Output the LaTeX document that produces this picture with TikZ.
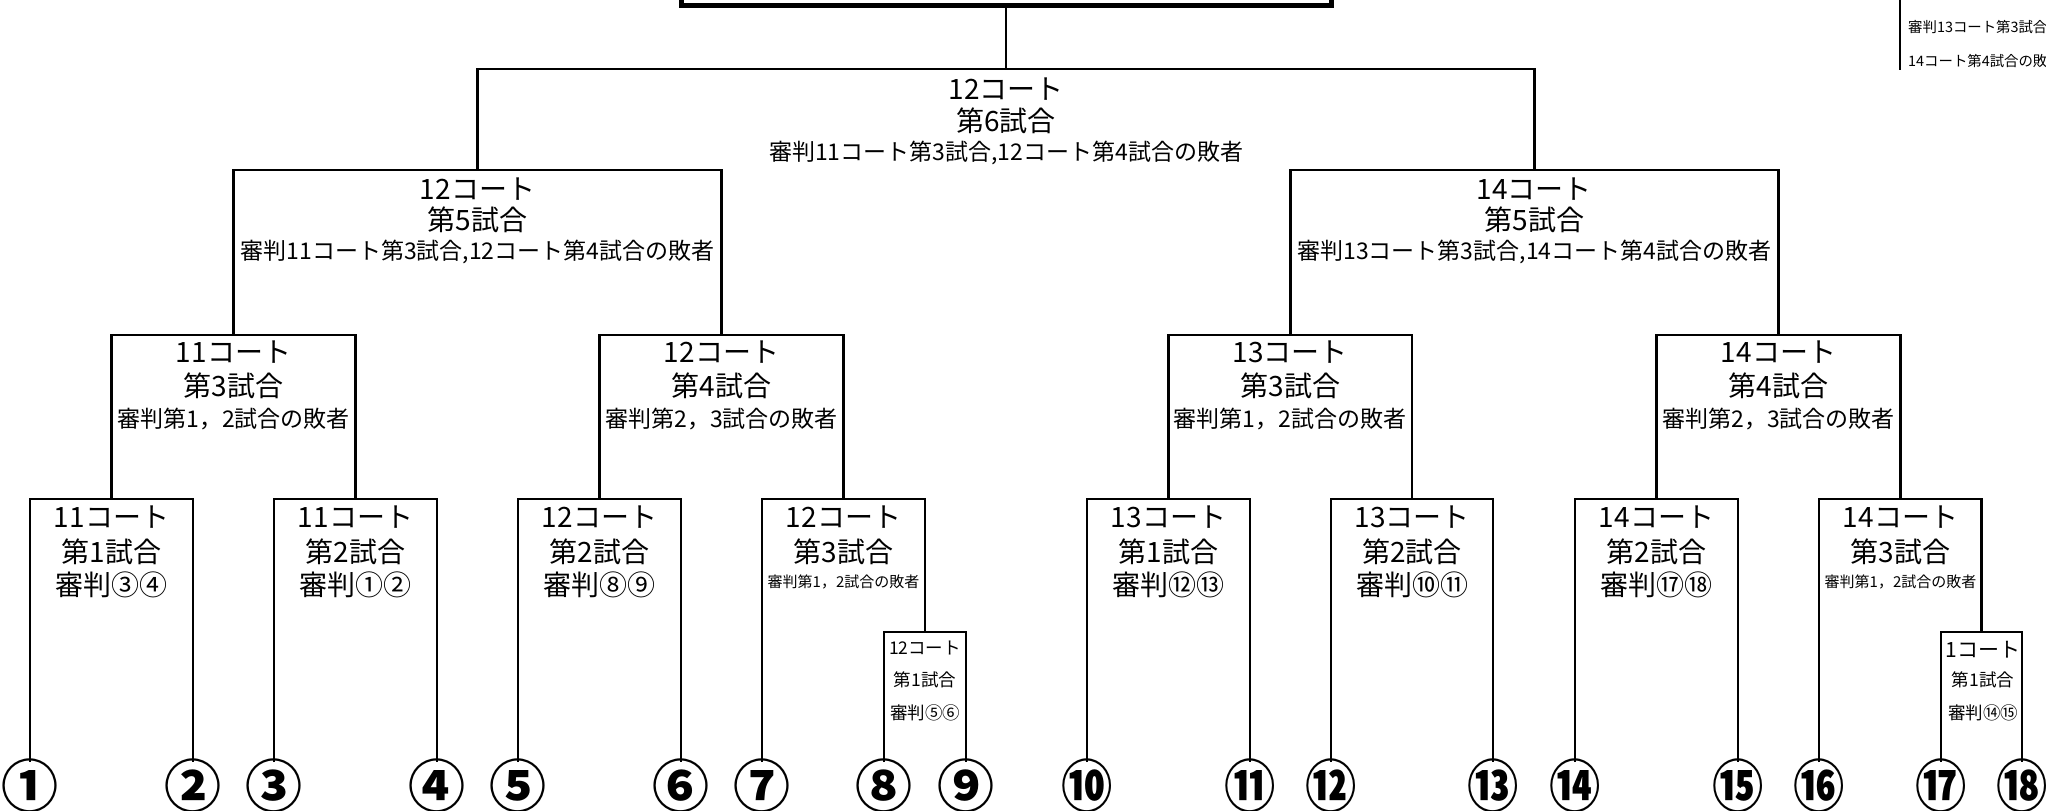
\documentclass[tikz,border=0pt]{standalone}
\usepackage{fontspec}
\setmainfont{Noto Sans CJK JP}
\begin{document}
\begin{tikzpicture}[x=1pt,y=-1pt,
  ln/.style={line width=2.6pt, line join=miter},
  tt/.style={inner sep=0pt, font=\fontsize{28}{28}\selectfont},
  rf/.style={inner sep=0pt, font=\fontsize{23}{23}\selectfont},
  sr/.style={inner sep=0pt, font=\fontsize{15}{15}\selectfont},
  tr/.style={inner sep=0pt, font=\fontsize{14.4}{14.4}\selectfont},
  st/.style={inner sep=0pt, font=\fontsize{17.5}{17.5}\selectfont},
  num/.style={inner sep=0pt, font=\fontsize{57}{57}\selectfont\bfseries},
  numn/.style={num, xscale=0.9}]
\useasboundingbox (0,0) rectangle (2046,811);
\clip (0,0) rectangle (2046,811);
% leg ends
\foreach \n/\x in {1/30,2/193,3/274,4/437,5/518,6/681,7/762,8/884,9/966,
  10/1087,11/1250,12/1331,13/1493,14/1575,15/1738,16/1819,17/1941,18/2022}
  \coordinate (p\n) at (\x,762);
% match tops
\coordinate (mA1) at (111.5,499);
\coordinate (mA2) at (355.5,499);
\coordinate (mB1) at (599.5,499);
\coordinate (mB2) at (843.5,499);
\coordinate (mB2s) at (925,632);
\coordinate (mC1) at (1168.5,499);
\coordinate (mC2) at (1412,499);
\coordinate (mD1) at (1656.5,499);
\coordinate (mD2) at (1900.5,499);
\coordinate (mD2s) at (1981.5,632);
\coordinate (mA) at (233.5,335);
\coordinate (mB) at (721.5,335);
\coordinate (mC) at (1290.25,335);
\coordinate (mD) at (1778.5,335);
\coordinate (mL) at (477.5,170);
\coordinate (mR) at (1534.4,170);
\coordinate (mF) at (1006,69);
\coordinate (tb) at (1006,5);
% brackets
\draw[ln] (p1) |- (mA1) -| (p2);
\draw[ln] (p3) |- (mA2) -| (p4);
\draw[ln] (p5) |- (mB1) -| (p6);
\draw[ln] (p7) |- (mB2) -| (mB2s);
\draw[ln] (p8) |- (mB2s) -| (p9);
\draw[ln] (p10) |- (mC1) -| (p11);
\draw[ln] (p12) |- (mC2) -| (p13);
\draw[ln] (p14) |- (mD1) -| (p15);
\draw[ln] (p16) |- (mD2) -| (mD2s);
\draw[ln] (p17) |- (mD2s) -| (p18);
\draw[ln] (mA1) |- (mA) -| (mA2);
\draw[ln] (mB1) |- (mB) -| (mB2);
\draw[ln] (mC1) |- (mC) -| (mC2);
\draw[ln] (mD1) |- (mD) -| (mD2);
\draw[ln] (mA) |- (mL) -| (mB);
\draw[ln] (mC) |- (mR) -| (mD);
\draw[ln] (mL) |- (mF) -| (mR);
\draw[ln] (mF) -- (tb);
% top box (mostly outside the page)
\draw[line width=5pt] (681,-60) rectangle (1331,5);
% top right fragment
\coordinate (tr1) at (1900,-5);
\coordinate (tr2) at (1900,70);
\draw[ln] (tr1) -- (tr2);
\node[tr, anchor=west] (trA) at (1908,27) {審判13コート第3試合};
\node[tr, anchor=west] (trB) at (1908,61) {14コート第4試合の敗};
% final
\node[tt] (tF-1) at (1006,89) {12コート};
\node[tt] (tF-2) at (1006,121) {第6試合};
\node[rf] (tF-3) at (1006,153) {審判11コート第3試合,12コート第4試合の敗者};
% semifinals
\node[tt] (tL-1) at (477.5,189) {12コート};
\node[tt] (tL-2) at (477.5,220) {第5試合};
\node[rf] (tL-3) at (477.5,252) {審判11コート第3試合,12コート第4試合の敗者};
\node[tt] (tR-1) at (1534.4,189) {14コート};
\node[tt] (tR-2) at (1534.4,220) {第5試合};
\node[rf] (tR-3) at (1534.4,252) {審判13コート第3試合,14コート第4試合の敗者};
% third level
\foreach \nm/\x/\crt/\gm/\rfr in {A/233.5/11/3/第1，2, B/721.5/12/4/第2，3,
    C/1290.25/13/3/第1，2, D/1778.5/14/4/第2，3} {
  \node[tt] (t\nm-1) at (\x,352) {\crt コート};
  \node[tt] (t\nm-2) at (\x,386) {第\gm 試合};
  \node[rf] (t\nm-3) at (\x,419) {審判\rfr 試合の敗者};
}
% first level
\foreach \nm/\x/\crt/\gm/\rfr in {A1/111.5/11/1/③④, A2/355.5/11/2/①②,
    B1/599.5/12/2/⑧⑨, C1/1168.5/13/1/⑫⑬, C2/1412/13/2/⑩⑪, D1/1656.5/14/2/⑰⑱} {
  \node[tt] (t\nm-1) at (\x,517) {\crt コート};
  \node[tt] (t\nm-2) at (\x,552) {第\gm 試合};
  \node[tt] (t\nm-3) at (\x,585) {審判\rfr};
}
\foreach \nm/\x/\crt in {B2/843.5/12, D2/1900.5/14} {
  \node[tt] (t\nm-1) at (\x,517) {\crt コート};
  \node[tt] (t\nm-2) at (\x,552) {第3試合};
  \node[sr] (t\nm-3) at (\x,582) {審判第1，2試合の敗者};
}
% small boxes
\node[st] (tB2s-1) at (925,648) {12コート};
\node[st] (tB2s-2) at (925,680) {第1試合};
\node[st] (tB2s-3) at (925,713) {審判⑤⑥};
\node[inner sep=0pt, font=\fontsize{21}{21}\selectfont] (tD2s-1) at (1983,650) {1コート};
\node[st] (tD2s-2) at (1983,680) {第1試合};
\node[st] (tD2s-3) at (1983,713) {審判⑭⑮};
% entrants
\foreach \n/\x/\c in {1/30/①,2/193/②,3/274/③,4/437/④,5/518/⑤,6/681/⑥,7/762/⑦,8/884/⑧,9/966/⑨}
  \node[num] (c\n) at (\x,786) {\c};
\foreach \n/\x/\c in {10/1087/⑩,11/1250/⑪,12/1331/⑫,13/1493/⑬,14/1575/⑭,15/1738/⑮,16/1819/⑯,17/1941/⑰,18/2022/⑱}
  \node[numn] (c\n) at (\x,786) {\c};
\end{tikzpicture}
\end{document}
